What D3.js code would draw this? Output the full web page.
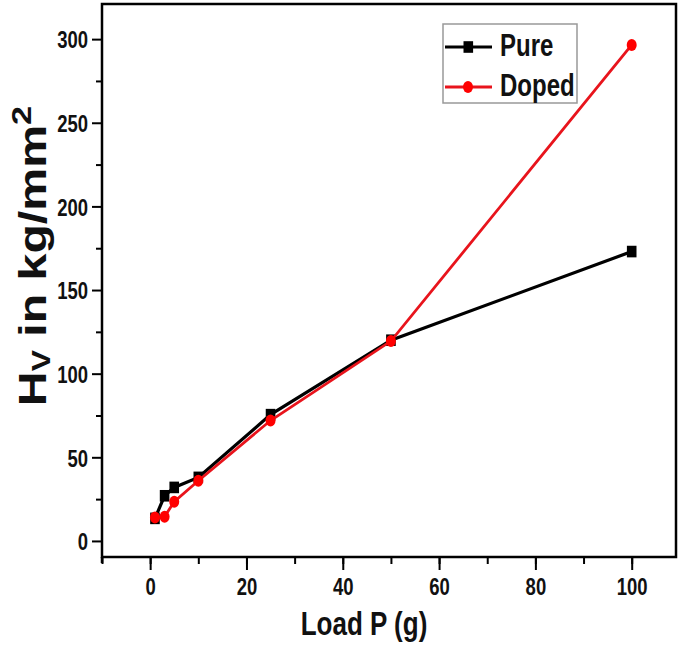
<!DOCTYPE html>
<html>
<head>
<meta charset="utf-8">
<script src="https://cdn.jsdelivr.net/npm/d3@7"></script>
<style>
  body { margin: 0; background: #fff; }
  text { font-family: "Liberation Sans", Arial, sans-serif; font-weight: bold; }
</style>
</head>
<body>
<svg width="685" height="646"></svg>
<script>
// data
var loads = [1, 3, 5, 10, 25, 50, 100];
var pure = [13.5, 27, 32, 38, 75.5, 120, 173];
var doped = [14, 14.5, 23.5, 36, 72, 119.5, 296.5];
var xTicks = [0, 20, 40, 60, 80, 100];
var yTicks = [0, 50, 100, 150, 200, 250, 300];

var svg = d3.select("svg"),
    margin = {top: 4, right: 9, bottom: 89, left: 102},
    width = +svg.attr("width") - margin.left - margin.right,
    height = +svg.attr("height") - margin.top - margin.bottom,
    g = svg.append("g").attr("transform", "translate(" + margin.left + "," + margin.top + ")");

// picture is stretched vertically, so text is too
var stretch = "scale(1,1.27)";

var x = d3.scaleLinear().domain([-10, 109.2]).range([0, width]);
var y = d3.scaleLinear().domain([-9.6, 321]).range([height, 0]);

// minor ticks
g.append("g")
    .attr("transform", "translate(0," + height + ")")
    .call(d3.axisBottom(x).tickValues(d3.range(-10, 110, 10)).tickSize(7).tickFormat(""))
    .call(function(a) { a.select(".domain").remove(); });
g.append("g")
    .call(d3.axisLeft(y).tickValues(d3.range(25, 300, 50)).tickSize(6).tickFormat(""))
    .call(function(a) { a.select(".domain").remove(); });

// major ticks
var xAxis = g.append("g")
    .attr("transform", "translate(0," + height + ")")
    .call(d3.axisBottom(x).tickValues(xTicks).tickSize(13));
xAxis.select(".domain").remove();
xAxis.selectAll("text")
    .attr("y", null).attr("dy", null)
    .attr("transform", "translate(0,38) " + stretch)
    .attr("font-size", 18.5);

var yAxis = g.append("g")
    .call(d3.axisLeft(y).tickValues(yTicks).tickSize(10));
yAxis.select(".domain").remove();
yAxis.selectAll("text")
    .attr("x", null).attr("dy", null)
    .attr("transform", "translate(-14,3) " + stretch + " translate(0,4.5)")
    .attr("font-size", 18.5);

g.selectAll(".tick line").attr("stroke", "#000").attr("stroke-width", 2);
g.selectAll(".tick text").attr("fill", "#111");

// frame
g.append("rect")
    .attr("width", width)
    .attr("height", height)
    .attr("fill", "none")
    .attr("stroke", "#000")
    .attr("stroke-width", 2.5);
g.append("line")
    .attr("x1", 0).attr("x2", 0)
    .attr("y1", height).attr("y2", height + 6)
    .attr("stroke", "#000").attr("stroke-width", 2.5);

var line = d3.line()
    .x(function(d) { return x(d[0]); })
    .y(function(d) { return y(d[1]); });

// Pure: black squares
var pts1 = loads.map(function(d, i) { return [d, pure[i]]; });
g.append("path")
    .datum(pts1)
    .attr("fill", "none")
    .attr("stroke", "#000")
    .attr("stroke-width", 3.2)
    .attr("d", line);
g.selectAll(".sq")
    .data(pts1)
    .enter().append("rect")
      .attr("x", function(d) { return x(d[0]) - 4.8; })
      .attr("y", function(d) { return y(d[1]) - 5.8; })
      .attr("width", 9.6)
      .attr("height", 11.6)
      .attr("fill", "#000");

// Doped: red circles
var pts2 = loads.map(function(d, i) { return [d, doped[i]]; });
g.append("path")
    .datum(pts2)
    .attr("fill", "none")
    .attr("stroke", "#e8141c")
    .attr("stroke-width", 2.8)
    .attr("d", line);
g.selectAll(".dot")
    .data(pts2)
    .enter().append("ellipse")
      .attr("cx", function(d) { return x(d[0]); })
      .attr("cy", function(d) { return y(d[1]); })
      .attr("rx", 5)
      .attr("ry", 6)
      .attr("fill", "#f00");

// axis titles
svg.append("text")
    .attr("transform", "translate(364,635) " + stretch)
    .attr("text-anchor", "middle")
    .attr("font-size", 26)
    .attr("fill", "#111")
    .text("Load P (g)");

var yt = svg.append("text")
    .attr("transform", "translate(46,256) " + stretch + " rotate(-90)")
    .attr("text-anchor", "middle")
    .attr("font-size", 38)
    .attr("fill", "#111");
yt.append("tspan").text("H");
yt.append("tspan").attr("font-size", 25).attr("dy", 4).text("V");
yt.append("tspan").attr("dy", -4).text(" in kg/mm");
yt.append("tspan").attr("font-size", 27).attr("dy", -15).text("2");

// legend
var legend = svg.append("g");
legend.append("rect")
    .attr("x", 443).attr("y", 24)
    .attr("width", 134).attr("height", 79)
    .attr("fill", "#fff")
    .attr("stroke", "#999")
    .attr("stroke-width", 1.5);

var keys = [
  {name: "Pure", color: "#000", y: 47},
  {name: "Doped", color: "#e8141c", y: 87}
];
var item = legend.selectAll(".item")
    .data(keys)
    .enter().append("g")
      .attr("transform", function(d) { return "translate(0," + d.y + ")"; });
item.append("line")
    .attr("x1", 445).attr("x2", 492)
    .attr("stroke", function(d) { return d.color; })
    .attr("stroke-width", function(d, i) { return i ? 2.8 : 3.2; });
item.filter(function(d, i) { return i === 0; }).append("rect")
    .attr("x", 463.5).attr("y", -5.8).attr("width", 9.6).attr("height", 11.6).attr("fill", "#000");
item.filter(function(d, i) { return i === 1; }).append("ellipse")
    .attr("cx", 468).attr("rx", 5).attr("ry", 6).attr("fill", "#f00");
item.append("text")
    .attr("transform", "translate(500,9) " + stretch)
    .attr("font-size", 24)
    .attr("fill", "#111")
    .text(function(d) { return d.name; });
</script>
</body>
</html>
